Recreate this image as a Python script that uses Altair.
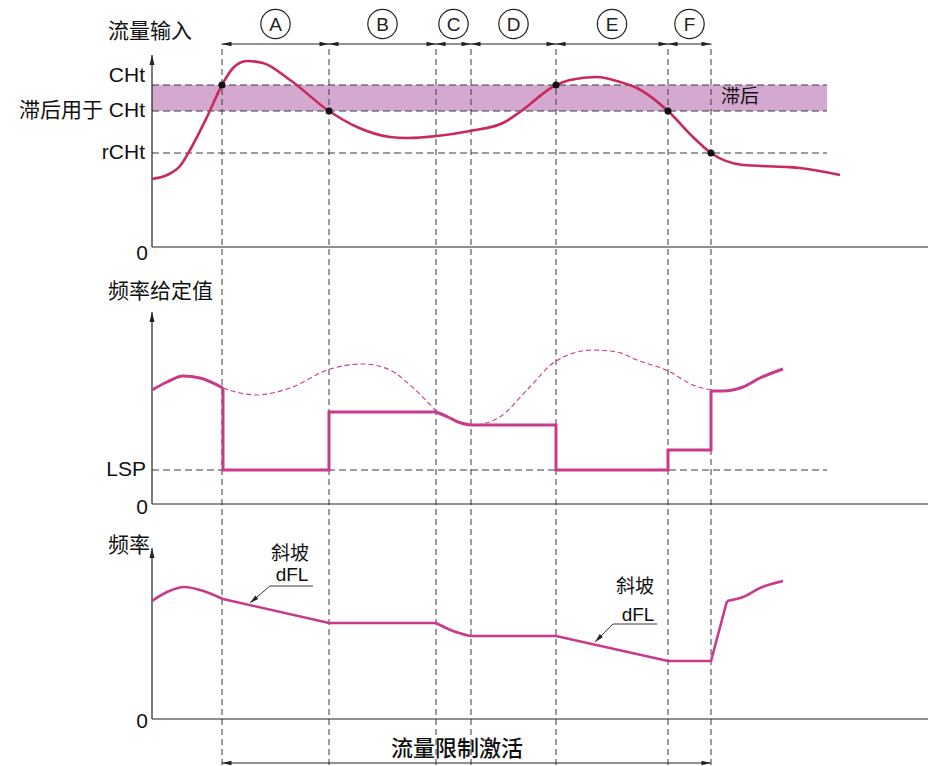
import altair as alt
import pandas as pd

# ---------------- data (time units along the x axis, values above each panel's zero line) ----------------
PHASES = ["A", "B", "C", "D", "E", "F"]
BOUNDS = [70, 177, 284, 319, 404, 516, 559]          # phase boundaries

# panel 1 : flow input
FLOW_T = [0, 15, 28, 38, 55, 70, 81, 95, 111, 138, 177, 205, 238, 255, 285, 318, 351, 368,
          404, 418, 445, 468, 485, 516, 541, 559, 591, 635, 648, 688]
FLOW_V = [68, 72, 81, 97, 130, 162, 179, 186, 184, 167, 136, 120, 110, 109, 111, 116, 124, 135,
          162, 167, 170, 165, 159, 136, 110, 94, 82, 80, 79, 72]
CHT, CHT_LOW, RCHT = 162, 136, 94
DOT_T = [70, 177, 404, 516, 559]
DOT_V = [162, 136, 162, 136, 94]

# panel 2 : frequency reference (limited, solid)
REF_T = [0, 15, 31, 48, 71, 71, 71, 177, 177, 284, 284, 296, 306, 319,
         319, 404, 404, 516, 516, 559, 559, 559, 571, 591, 608, 631]
REF_V = [114, 122, 128, 126, 116, 116, 34, 34, 92, 92, 92, 87, 82, 79,
         79, 79, 34, 34, 54, 54, 113, 113, 113, 117, 126, 135]
REF_PART = ["s1"] * 5 + ["l1"] * 5 + ["s2"] * 4 + ["l2"] * 7 + ["s3"] * 5
LSP = 34
# panel 2 : unlimited reference (thin dashed)
UNL_T = [71, 88, 105, 138, 178, 211, 238, 258, 285, 325, 348, 375, 404, 441, 465, 485, 516, 541, 559]
UNL_V = [116, 111, 109, 116, 135, 140, 134, 119, 92, 79, 87, 114, 143, 154, 152, 144, 133, 119, 114]
UNL_PART = [1] * 9 + [2] * 10

# panel 3 : output frequency
FREQ_T = [0, 15, 33, 48, 71, 71, 177, 284, 284, 301, 318, 318, 404, 516, 559, 575, 575, 591, 608, 631]
FREQ_V = [118, 127, 132, 129, 120, 120, 96, 96, 96, 88, 83, 83, 83, 58, 58, 118, 118, 122, 131, 138]
FREQ_PART = ["s1"] * 5 + ["l1"] * 3 + ["s2"] * 3 + ["l2"] * 5 + ["s3"] * 4

# ---------------- layout ----------------
W, H = 922, 758
XS = alt.Scale(domain=[-144, 778], nice=False, zero=False)
YS = alt.Scale(domain=[-12, 746], nice=False, zero=False)
BASE = {"flow": 507, "ref": 250, "freq": 35}
AX_TOP = {"flow": 192, "ref": 192, "freq": 171}
T_AX_END = 776
T_LINE_END = 675
RANGE_G = 710
CIRCLE_G = 730
BOTTOM_G = -9
VL_BOTTOM = -11

CJK = "Liberation Sans, Noto Sans CJK SC"
C_FLOW = "#c92a5c"
C_MAG = "#c93a8b"
DASH_GREY = "#3a3a3a"

RIGHT_ARROW = "M0,0L-2,-0.5L-2,0.5Z"
LEFT_ARROW = "M0,0L2,-0.5L2,0.5Z"
UP_ARROW = "M0,0L-0.5,2L0.5,2Z"


def X(f="t"):
    return alt.X(f"{f}:Q", scale=XS, axis=None)


def Y(f="g"):
    return alt.Y(f"{f}:Q", scale=YS, axis=None)


layers = []

# hysteresis band
band = pd.DataFrame({"t": [0], "t2": [T_LINE_END], "g": [BASE["flow"] + CHT_LOW], "g2": [BASE["flow"] + CHT]})
layers.append(alt.Chart(band).mark_rect(color="#d5a9cf").encode(
    x=X(), x2=alt.X2("t2:Q"), y=Y(), y2=alt.Y2("g2:Q")))

# horizontal dashed threshold lines
thr = pd.DataFrame({
    "t": [0, 0, 0, 0],
    "t2": [T_LINE_END] * 4,
    "g": [BASE["flow"] + CHT, BASE["flow"] + CHT_LOW, BASE["flow"] + RCHT, BASE["ref"] + LSP],
})
layers.append(alt.Chart(thr).mark_rule(color=DASH_GREY, strokeWidth=1, strokeDash=[7, 4]).encode(
    x=X(), x2=alt.X2("t2:Q"), y=Y()))

# vertical dashed phase lines
vl = pd.DataFrame({"t": BOUNDS, "g": [VL_BOTTOM] * len(BOUNDS), "g2": [RANGE_G] * len(BOUNDS)})
layers.append(alt.Chart(vl).mark_rule(color=DASH_GREY, strokeWidth=1, strokeDash=[6, 4]).encode(
    x=X(), y=Y(), y2=alt.Y2("g2:Q")))

# axes
axv = pd.DataFrame({"t": [0, 0, 0], "g": [BASE[k] for k in BASE], "g2": [BASE[k] + AX_TOP[k] for k in BASE]})
axh = pd.DataFrame({"t": [0, 0, 0], "t2": [T_AX_END] * 3, "g": [BASE[k] for k in BASE]})
layers.append(alt.Chart(axv).mark_rule(color="#222", strokeWidth=1.2).encode(x=X(), y=Y(), y2=alt.Y2("g2:Q")))
layers.append(alt.Chart(axh).mark_rule(color="#222", strokeWidth=1.2).encode(x=X(), x2=alt.X2("t2:Q"), y=Y()))
layers.append(alt.Chart(axv).mark_point(shape=UP_ARROW, filled=True, color="#222", size=100, opacity=1).encode(
    x=X(), y=Y("g2")))

# phase range arrows
rng = pd.DataFrame({"t": BOUNDS[:-1], "t2": BOUNDS[1:], "g": [RANGE_G] * 6,
                    "mid": [(a + b) / 2 for a, b in zip(BOUNDS[:-1], BOUNDS[1:])], "label": PHASES,
                    "gc": [CIRCLE_G] * 6})
layers.append(alt.Chart(rng).mark_rule(color="#222", strokeWidth=1).encode(x=X(), x2=alt.X2("t2:Q"), y=Y()))
layers.append(alt.Chart(rng).mark_point(shape=LEFT_ARROW, filled=True, color="#222", size=90, opacity=1).encode(
    x=X(), y=Y()))
layers.append(alt.Chart(rng).mark_point(shape=RIGHT_ARROW, filled=True, color="#222", size=90, opacity=1).encode(
    x=X("t2"), y=Y()))
layers.append(alt.Chart(rng).mark_point(shape="circle", filled=False, color="#222", size=860, strokeWidth=1.2,
                                        opacity=1).encode(x=X("mid"), y=Y("gc")))
layers.append(alt.Chart(rng).mark_text(font="Liberation Sans", fontSize=19, color="#222", baseline="middle",
                                       dy=1).encode(x=X("mid"), y=Y("gc"), text="label:N"))

# bottom "flow limitation active" arrow
bot = pd.DataFrame({"t": [BOUNDS[0]], "t2": [BOUNDS[-1]], "g": [BOTTOM_G]})
layers.append(alt.Chart(bot).mark_rule(color="#222", strokeWidth=1).encode(x=X(), x2=alt.X2("t2:Q"), y=Y()))
layers.append(alt.Chart(bot).mark_point(shape=LEFT_ARROW, filled=True, color="#222", size=90, opacity=1).encode(
    x=X(), y=Y()))
layers.append(alt.Chart(bot).mark_point(shape=RIGHT_ARROW, filled=True, color="#222", size=90, opacity=1).encode(
    x=X("t2"), y=Y()))

# curves
flow = pd.DataFrame({"t": FLOW_T, "g": [BASE["flow"] + v for v in FLOW_V]})
layers.append(alt.Chart(flow).mark_line(color=C_FLOW, strokeWidth=2.6, interpolate="monotone").encode(x=X(), y=Y()))

unl = pd.DataFrame({"t": UNL_T, "g": [BASE["ref"] + v for v in UNL_V], "part": UNL_PART})
layers.append(alt.Chart(unl).mark_line(color=C_MAG, strokeWidth=1.1, strokeDash=[5, 3], interpolate="monotone").encode(
    x=X(), y=Y(), detail="part:N"))


def seg_layers(T, V, P, base, width):
    df = pd.DataFrame({"t": T, "g": [base + v for v in V], "part": P, "i": list(range(len(T)))})
    sm = df[df["part"].str.startswith("s")]
    ln = df[df["part"].str.startswith("l")]
    out = [
        alt.Chart(sm).mark_line(color=C_MAG, strokeWidth=width, interpolate="monotone").encode(
            x=X(), y=Y(), detail="part:N", order="i:Q"),
        alt.Chart(ln).mark_line(color=C_MAG, strokeWidth=width, interpolate="linear", strokeJoin="miter").encode(
            x=X(), y=Y(), detail="part:N", order="i:Q"),
    ]
    return out


layers += seg_layers(REF_T, REF_V, REF_PART, BASE["ref"], 3)
layers += seg_layers(FREQ_T, FREQ_V, FREQ_PART, BASE["freq"], 2.6)

dots = pd.DataFrame({"t": DOT_T, "g": [BASE["flow"] + v for v in DOT_V]})
layers.append(alt.Chart(dots).mark_point(shape="circle", filled=True, color="#111", size=50, opacity=1).encode(
    x=X(), y=Y()))

# ramp annotations (leader + underline + arrow)
lead = pd.DataFrame({"t": [118, 461], "g": [168, 130], "t2": [98, 443], "g2": [151, 112],
                     "tu": [161, 505], "ang": [139.6, 135.0]})
layers.append(alt.Chart(lead).mark_rule(color="#222", strokeWidth=0.9).encode(
    x=X(), y=Y(), x2=alt.X2("t2:Q"), y2=alt.Y2("g2:Q")))
layers.append(alt.Chart(lead).mark_rule(color="#222", strokeWidth=0.9).encode(
    x=X(), x2=alt.X2("tu:Q"), y=Y()))
layers.append(alt.Chart(lead.iloc[[0]]).mark_point(shape=RIGHT_ARROW, filled=True, color="#222", size=80,
                                                   opacity=1, angle=139.6).encode(x=X("t2"), y=Y("g2")))
layers.append(alt.Chart(lead.iloc[[1]]).mark_point(shape=RIGHT_ARROW, filled=True, color="#222", size=80,
                                                   opacity=1, angle=135).encode(x=X("t2"), y=Y("g2")))

# texts
titles = pd.DataFrame({"label": ["流量输入", "频率给定值", "频率"], "t": [-44, -44, -44], "g": [722, 462, 208]})
layers.append(alt.Chart(titles).mark_text(font=CJK, fontSize=21, align="left", baseline="middle", color="#111").encode(
    x=X(), y=Y(), text="label:N"))

ylab = pd.DataFrame({
    "label": ["CHt", "滞后用于 CHt", "rCHt", "0", "LSP", "0", "0"],
    "t": [-7, -7, -7, -4, -6, -4, -4],
    "g": [678, 643, 601, 500, 284, 246, 32],
})
layers.append(alt.Chart(ylab).mark_text(font=CJK, fontSize=21, align="right", baseline="middle", color="#111").encode(
    x=X(), y=Y(), text="label:N"))

mid = pd.DataFrame({
    "label": ["滞后", "斜坡", "dFL", "斜坡", "dFL"],
    "t": [588, 138, 140, 483, 486],
    "g": [657, 200, 179, 167, 139],
})
layers.append(alt.Chart(mid).mark_text(font=CJK, fontSize=19, align="center", baseline="middle", color="#111").encode(
    x=X(), y=Y(), text="label:N"))

act = pd.DataFrame({"label": ["流量限制激活"], "t": [305], "g": [5]})
layers.append(alt.Chart(act).mark_text(font=CJK, fontSize=22, fontWeight=500, align="center", baseline="middle",
                                       color="#111").encode(x=X(), y=Y(), text="label:N"))

chart = alt.layer(*layers).properties(
    width=W, height=H, padding=0, autosize=alt.AutoSizeParams(type="none"), background="white"
).configure_view(stroke=None)

chart.save("out.html", embed_options={"renderer": "svg", "actions": False})
